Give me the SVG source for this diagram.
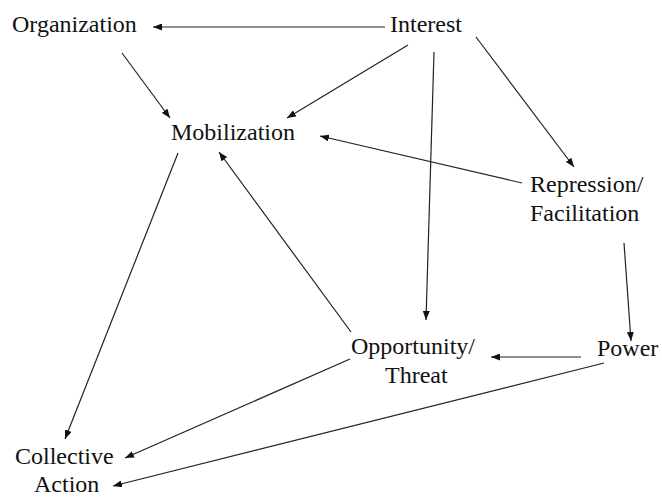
<svg xmlns="http://www.w3.org/2000/svg" width="662" height="497" viewBox="0 0 662 497">
<style>
text{font-family:'Liberation Serif','Times New Roman',Times,serif;font-size:24px;fill:#111}
.c line{stroke:#222;stroke-width:1.2;marker-end:url(#ah)}
</style>
<defs>
<marker id="ah" markerUnits="userSpaceOnUse" markerWidth="9" markerHeight="7" refX="9" refY="3.5" orient="auto">
<path d="M0,0 L9,3.5 L0,7 z" fill="#111"/>
</marker>
</defs>
<rect width="662" height="497" fill="#fff"/>
<g id="connectors" class="c">
<line x1="385" y1="27" x2="153" y2="27"/>
<line x1="122" y1="53" x2="170" y2="118"/>
<line x1="408" y1="45" x2="287" y2="118"/>
<line x1="434" y1="52" x2="426" y2="320"/>
<line x1="476" y1="37" x2="574" y2="167"/>
<line x1="522" y1="183" x2="320" y2="136"/>
<line x1="178" y1="153" x2="65" y2="439"/>
<line x1="351" y1="332" x2="219" y2="152"/>
<line x1="624" y1="243" x2="631" y2="341"/>
<line x1="581" y1="357" x2="491" y2="357"/>
<line x1="350" y1="359" x2="125" y2="458"/>
<line x1="604" y1="363" x2="113" y2="486"/>
</g>
<g id="organization"><text x="12" y="32" font-family="Liberation Serif">Organization</text></g>
<g id="interest"><text x="390" y="32" font-family="Liberation Serif">Interest</text></g>
<g id="mobilization"><text x="171" y="140" font-family="Liberation Serif">Mobilization</text></g>
<g id="repression"><text x="530" y="192" font-family="Liberation Serif">Repression/</text><text x="530" y="221" font-family="Liberation Serif">Facilitation</text></g>
<g id="opportunity"><text x="351" y="354" font-family="Liberation Serif">Opportunity/</text><text x="385" y="383" font-family="Liberation Serif">Threat</text></g>
<g id="power"><text x="597" y="356" font-family="Liberation Serif">Power</text></g>
<g id="collective"><text x="15" y="464" font-family="Liberation Serif">Collective</text><text x="34" y="492" font-family="Liberation Serif">Action</text></g>
</svg>
